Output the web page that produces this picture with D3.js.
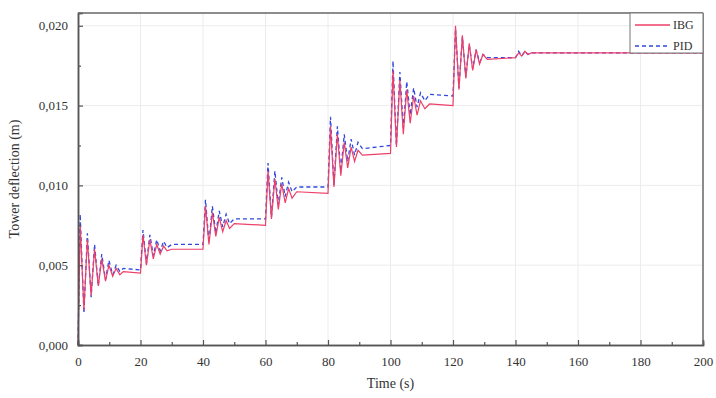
<!DOCTYPE html>
<html>
<head>
<meta charset="utf-8">
<script src="https://cdn.jsdelivr.net/npm/d3@7"></script>
<style>
  body { margin: 0; background: #fff; }
  svg { display: block; }
  text { font-family: "Liberation Serif", "DejaVu Serif", serif; fill: #333; }
</style>
</head>
<body>
<svg></svg>
<script>
const width = 716
const height = 398

// time (s), shared by both series
const time = [
  0, 0.7, 1.9, 3.0, 4.2, 5.3, 6.5, 7.6, 8.8, 9.9, 11.1, 12.2, 13.4, 14.5, 20,
  20.8, 21.9, 23, 24.1, 25.2, 26.3, 27.4, 28.5, 30, 40,
  40.8, 41.9, 43, 44.1, 45.2, 46.3, 47.4, 48.5, 50, 60,
  60.8, 61.9, 63, 64.1, 65.2, 66.3, 67.4, 68.5, 70, 80,
  80.8, 81.9, 83, 84.1, 85.2, 86.3, 87.4, 88.5, 89.6, 91, 100,
  100.8, 101.9, 103, 104.1, 105.2, 106.3, 107.4, 108.5, 109.6, 111, 112.5, 120,
  120.8, 121.9, 123, 124.1, 125.2, 126.3, 127.4, 128.5, 129.6, 131, 140,
  141, 142, 143, 144, 145, 200
]

// tower deflection (m)
const ibg = [
  0, 0.0075, 0.0022, 0.0066, 0.0031, 0.0060, 0.0037, 0.0054, 0.0040, 0.0050, 0.0043, 0.0048, 0.0044, 0.0046, 0.0045,
  0.0069, 0.0050, 0.0066, 0.0054, 0.0063, 0.0057, 0.0062, 0.0059, 0.0060, 0.0060,
  0.0087, 0.0063, 0.0083, 0.0068, 0.0080, 0.0071, 0.0078, 0.0073, 0.0076, 0.0075,
  0.0109, 0.0079, 0.0104, 0.0085, 0.0101, 0.0089, 0.0098, 0.0092, 0.0096, 0.0095,
  0.0137, 0.0099, 0.0132, 0.0106, 0.0127, 0.0111, 0.0124, 0.0115, 0.0122, 0.0119, 0.0120,
  0.0172, 0.0124, 0.0166, 0.0132, 0.0160, 0.0139, 0.0156, 0.0144, 0.0153, 0.0148, 0.0151, 0.0150,
  0.0200, 0.0160, 0.0194, 0.0167, 0.0189, 0.0172, 0.0185, 0.0176, 0.0182, 0.0179, 0.0180,
  0.0183, 0.0181, 0.0184, 0.0182, 0.0183, 0.0183
]

const pid = [
  0, 0.0082, 0.0020, 0.0070, 0.0030, 0.0063, 0.0037, 0.0057, 0.0041, 0.0053, 0.0044, 0.0050, 0.0046, 0.0048, 0.0047,
  0.0072, 0.0051, 0.0069, 0.0056, 0.0066, 0.0059, 0.0065, 0.0061, 0.0063, 0.0063,
  0.0091, 0.0064, 0.0087, 0.0070, 0.0084, 0.0074, 0.0082, 0.0076, 0.0079, 0.0079,
  0.0114, 0.0080, 0.0109, 0.0088, 0.0105, 0.0093, 0.0102, 0.0096, 0.0099, 0.0099,
  0.0143, 0.0100, 0.0137, 0.0109, 0.0132, 0.0115, 0.0129, 0.0119, 0.0127, 0.0123, 0.0125,
  0.0178, 0.0125, 0.0171, 0.0136, 0.0165, 0.0144, 0.0161, 0.0149, 0.0158, 0.0153, 0.0157, 0.0156,
  0.0198, 0.0161, 0.0193, 0.0168, 0.0188, 0.0173, 0.0185, 0.0177, 0.0182, 0.0180, 0.0180,
  0.0184, 0.0181, 0.0184, 0.0182, 0.0183, 0.0183
]

const xTicks = [0, 20, 40, 60, 80, 100, 120, 140, 160, 180, 200]
const yTicks = [0, 0.005, 0.010, 0.015, 0.020]
const seriesNames = ["IBG", "PID"]

const margin = { left: 78, right: 13, top: 13, bottom: 53 }

const svg = d3.select('svg')
  .attr('width', width)
  .attr('height', height)

const x = d3.scaleLinear().domain([0, 200]).range([margin.left, width - margin.right])
const y = d3.scaleLinear().domain([0, 0.0208]).range([height - margin.bottom, margin.top])

const fmt = d => d3.format(".3f")(d).replace(".", ",")

// grid
const grid = svg.append('g')
grid.selectAll('.gx').data(xTicks.slice(1, -1)).enter().append('line')
  .attr('x1', d => x(d)).attr('x2', d => x(d))
  .attr('y1', y.range()[1]).attr('y2', y.range()[0])
  .attr('stroke', '#ececec').attr('stroke-width', 1)
grid.selectAll('.gy').data(yTicks.slice(1)).enter().append('line')
  .attr('x1', x.range()[0]).attr('x2', x.range()[1])
  .attr('y1', d => y(d)).attr('y2', d => y(d))
  .attr('stroke', '#ececec').attr('stroke-width', 1)

// lines
const line = d3.line()
  .x((d, i) => x(time[i]))
  .y(d => y(d))

svg.append('path')
  .datum(pid)
  .attr('d', line)
  .attr('fill', 'none')
  .attr('stroke', '#3048e0')
  .attr('stroke-width', 1.3)
  .attr('stroke-dasharray', '4,3')

svg.append('path')
  .datum(ibg)
  .attr('d', line)
  .attr('fill', 'none')
  .attr('stroke', '#ee3f68')
  .attr('stroke-width', 1.2)

// axes
const xAxis = d3.axisBottom(x).tickValues(xTicks).tickSize(-5).tickPadding(12).tickFormat(d3.format("d"))
const gx = svg.append('g')
  .attr('transform', `translate(0,${y.range()[0]})`)
  .call(xAxis)
const xMinor = d3.axisBottom(x).tickValues(d3.range(10, 200, 20)).tickSize(-3).tickFormat("")
svg.append('g').attr('transform', `translate(0,${y.range()[0]})`).call(xMinor)

const yAxis = d3.axisLeft(y).tickValues(yTicks).tickSize(-5).tickPadding(10).tickFormat(fmt)
const gy = svg.append('g')
  .attr('transform', `translate(${x.range()[0]},0)`)
  .call(yAxis)
const yMinor = d3.axisLeft(y).tickValues([0.0025, 0.0075, 0.0125, 0.0175]).tickSize(-3).tickFormat("")
svg.append('g').attr('transform', `translate(${x.range()[0]},0)`).call(yMinor)

svg.selectAll('.domain').attr('stroke', '#555').attr('stroke-width', 1.5)
svg.selectAll('.tick line').attr('stroke', '#555').attr('stroke-width', 1.2)
svg.selectAll('.tick text').style('font-size', '13px').attr('fill', '#333')

// frame top/right
svg.append('line')
  .attr('x1', x.range()[0]).attr('x2', x.range()[1])
  .attr('y1', y.range()[1]).attr('y2', y.range()[1])
  .attr('stroke', '#666').attr('stroke-width', 1.5)
svg.append('line')
  .attr('x1', x.range()[1]).attr('x2', x.range()[1])
  .attr('y1', y.range()[1]).attr('y2', y.range()[0])
  .attr('stroke', '#666').attr('stroke-width', 1.5)

// axis titles
svg.append('text')
  .attr('x', (x.range()[0] + x.range()[1]) / 2)
  .attr('y', 388)
  .attr('text-anchor', 'middle')
  .style('font-size', '14px')
  .text('Time (s)')

svg.append('text')
  .attr('transform', `translate(19,${(y.range()[0] + y.range()[1]) / 2}) rotate(-90)`)
  .attr('text-anchor', 'middle')
  .style('font-size', '14px')
  .text('Tower deflection (m)')

// legend
const lg = svg.append('g')
lg.append('rect')
  .attr('x', 630).attr('y', margin.top)
  .attr('width', x.range()[1] - 630).attr('height', 40)
  .attr('fill', '#fff').attr('stroke', '#777').attr('stroke-width', 1)
const legendColors = ['#ee3f68', '#3048e0']
seriesNames.forEach((name, i) => {
  const ly = 25 + i * 21
  lg.append('line')
    .attr('x1', 635).attr('x2', 670)
    .attr('y1', ly).attr('y2', ly)
    .attr('stroke', legendColors[i])
    .attr('stroke-width', 1.3)
    .attr('stroke-dasharray', i === 1 ? '4,3' : null)
  lg.append('text')
    .attr('x', 673).attr('y', ly + 4)
    .style('font-size', '12px')
    .text(name)
})
</script>
</body>
</html>
